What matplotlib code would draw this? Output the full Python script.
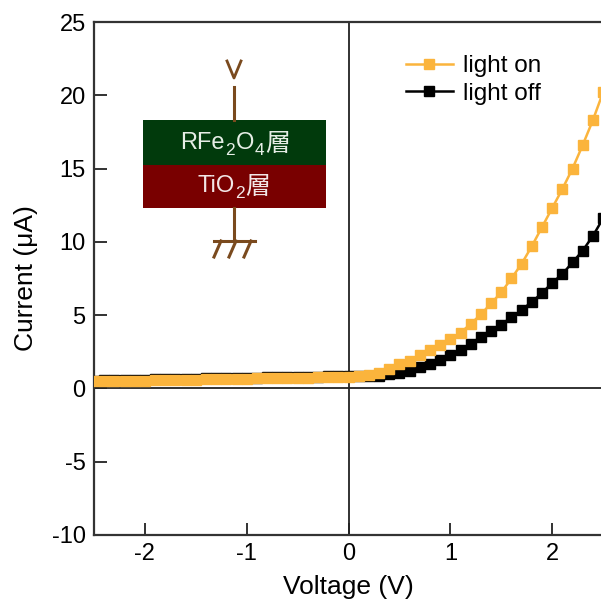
import numpy as np
import matplotlib.pyplot as plt
from matplotlib.lines import Line2D

plt.rcParams['font.family'] = ['Liberation Sans', 'DejaVu Sans', 'Noto Sans CJK JP']

# bias voltage (V), 0.1 V steps
voltage = np.round(np.arange(-2.5, 2.501, 0.1), 2)

# current under illumination (uA)
current_on = [
    0.48, 0.49, 0.50, 0.52, 0.53, 0.54, 0.55, 0.57, 0.58, 0.59,
    0.60, 0.62, 0.63, 0.64, 0.65, 0.67, 0.68, 0.69, 0.70, 0.72,
    0.73, 0.74, 0.75, 0.77, 0.78, 0.80,
    0.85, 0.92, 1.05, 1.35, 1.65, 1.90, 2.25, 2.60, 2.95, 3.35,
    3.80, 4.40, 5.05, 5.80, 6.55, 7.50, 8.50, 9.70, 11.0, 12.3,
    13.6, 15.0, 16.6, 18.3, 20.2,
]

# current in the dark (uA)
current_off = [
    0.54, 0.55, 0.56, 0.58, 0.59, 0.60, 0.61, 0.63, 0.64, 0.65,
    0.66, 0.68, 0.69, 0.70, 0.71, 0.73, 0.74, 0.75, 0.76, 0.78,
    0.79, 0.80, 0.81, 0.83, 0.84, 0.85,
    0.85, 0.87, 0.88, 0.95, 1.05, 1.20, 1.45, 1.70, 1.95, 2.25,
    2.65, 3.05, 3.50, 3.95, 4.35, 4.85, 5.35, 5.90, 6.50, 7.20,
    7.80, 8.60, 9.40, 10.4, 11.6,
]

x_ticks = [-2, -1, 0, 1, 2]
y_ticks = [-10, -5, 0, 5, 10, 15, 20, 25]

ORANGE = '#FBB43C'
BROWN = '#7A4A1E'
MS = 7.5

fig = plt.figure(figsize=(6.01, 6.03), dpi=100)
ax = fig.add_axes([0.1564, 0.1128, 0.847, 0.8507])

ax.axhline(0, color='#222222', linewidth=1.3, zorder=1)
ax.axvline(0, color='#222222', linewidth=1.3, zorder=1)

ax.plot(voltage, current_off, color='black', marker='s', markersize=MS,
        linewidth=1.8, zorder=3)
ax.plot(voltage, current_on, color=ORANGE, marker='s', markersize=MS,
        linewidth=1.8, zorder=4)

ax.set_xlim(-2.5, 2.5)
ax.set_ylim(-10, 25)
ax.set_xticks(x_ticks)
ax.set_yticks(y_ticks)
ax.set_xticklabels([str(t) for t in x_ticks])
ax.set_yticklabels([str(t) for t in y_ticks])
ax.tick_params(direction='in', length=9, width=1.3, labelsize=17,
               color='#222222', pad=6)

for side in ['left', 'bottom', 'top']:
    ax.spines[side].set_linewidth(1.6)
    ax.spines[side].set_color('#333333')
ax.spines['right'].set_visible(False)

ax.set_xlabel('Voltage (V)', fontsize=19, labelpad=7)
ax.set_ylabel('Current (\u03bcA)', fontsize=19, labelpad=10)

handles = [
    Line2D([], [], color=ORANGE, marker='s', markersize=MS, linewidth=1.8),
    Line2D([], [], color='black', marker='s', markersize=MS, linewidth=1.8),
]
ax.legend(handles, ['light on', 'light off'], loc='upper left',
          bbox_to_anchor=(0.612, 0.935), frameon=False, fontsize=17.5,
          handlelength=1.95, handletextpad=0.4, labelspacing=0.22,
          borderpad=0, borderaxespad=0)


# inset: device sketch, positions in image pixels from the top-left
def px(x, y):
    return x / 601, 1 - y / 603


def box(x0, y0, x1, y1, color):
    (fx0, fy1), (fx1, fy0) = px(x0, y0), px(x1, y1)
    fig.patches.append(plt.Rectangle((fx0, fy0), fx1 - fx0, fy1 - fy0,
                                     transform=fig.transFigure,
                                     facecolor=color, edgecolor='none', zorder=5))


def wire(pts, lw=2.2):
    xs = [px(x, y)[0] for x, y in pts]
    ys = [px(x, y)[1] for x, y in pts]
    fig.add_artist(Line2D(xs, ys, color=BROWN, linewidth=lw,
                          transform=fig.transFigure, zorder=6))


def label_row(pieces, cx, baseline, color):
    # pieces: (text, fontsize, drop in px, gap after in px)
    renderer = fig.canvas.get_renderer()
    texts, widths = [], []
    for s, size, drop, gap in pieces:
        t = fig.text(0, 0, s, fontsize=size, color=color, ha='left',
                     va='baseline', zorder=7)
        texts.append((t, drop))
        widths.append(t.get_window_extent(renderer).width + gap)
    x = cx - sum(widths) / 2
    for (t, drop), w in zip(texts, widths):
        t.set_position(px(x, baseline + drop))
        x += w


box(143, 120, 326, 165, '#013A0C')
box(143, 165, 326, 208, '#790000')
wire([(234, 87), (234, 120)])
wire([(234, 208), (234, 241)])
wire([(214, 241), (255, 241)])
for gx in [221, 236, 251]:
    wire([(gx, 241), (gx - 7, 257)])
wire([(227, 61), (234, 78), (241, 61)], lw=2.0)

label_row([('RFe', 17, 0, 0.6), ('2', 12.5, 6, 0.6), ('O', 17, 0, 0.6),
           ('4', 12.5, 6, 0.6), ('\u5c64', 18, 2, 0)],
          235, 149, '#E6EEE6')
label_row([('TiO', 17, 0, 0.6), ('2', 12.5, 6, 0.6), ('\u5c64', 18, 2, 0)],
          234, 192, '#F2E6E6')

fig.savefig('out.png', dpi=100)
